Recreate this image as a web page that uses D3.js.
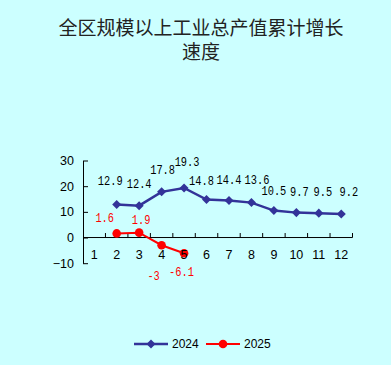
<!DOCTYPE html>
<html><head><meta charset="utf-8">
<script src="https://cdn.jsdelivr.net/npm/d3@7/dist/d3.min.js"></script>
<style>
html,body{margin:0;padding:0;background:#CCFFFF;}
svg{display:block;}
</style></head>
<body><svg id="c" width="391" height="365"></svg>
<script>
const months = [1,2,3,4,5,6,7,8,9,10,11,12];
const monthLabels = ["1","2","3","4","5","6","7","8","9","10","11","12"];
const months2024 = [2,3,4,5,6,7,8,9,10,11,12];
const values2024 = [12.9,12.4,17.8,19.3,14.8,14.4,13.6,10.5,9.7,9.5,9.2];
const months2025 = [2,3,4,5];
const values2025 = [1.6,1.9,-3,-6.1];
const yTicks = [-10,0,10,20,30];
const seriesNames = ["2024","2025"];
const titleLines = ["全区规模以上工业总产值累计增长","速度"];

// layout: data-label nudges (px) as placed in the reference
const nudge2024 = [[-6.5,-22.5],[0,-20.3],[1,-21],[3,-25],[-5,-17.6],[0,-20],[5.5,-22],[0,-19],[3,-20],[4,-20],[7.6,-21]];
const nudge2025 = [[-12,-14],[2,-12],[-8,32],[-2.6,20]];

const svg = d3.select("#c");
svg.append("rect").attr("width",391).attr("height",365).attr("fill","#CCFFFF");

const numFont = "'Liberation Mono', 'DejaVu Sans Mono', monospace";

// title
svg.append("g").selectAll("text").data(titleLines).join("text")
  .attr("x",201).attr("y",(d,i)=>26+i*24.5)
  .attr("text-anchor","middle").attr("dominant-baseline","central")
  .attr("font-family","'Noto Sans CJK SC'").attr("font-size",19)
  .attr("fill","#222").text(d=>d);

const x = d3.scaleBand().domain(months).range([83,352.5]).padding(0);
const y = d3.scaleLinear().domain([-10,30]).range([263.2,160.5]);
const cx = m => x(m)+x.bandwidth()/2;

// y axis
const yAxis = d3.axisLeft(y).tickValues(yTicks).tickSizeInner(-5).tickSizeOuter(0).tickPadding(9);
const gy = svg.append("g").attr("transform","translate(83,0)").call(yAxis);
gy.select(".domain").attr("stroke","#000");
gy.selectAll(".tick line").attr("stroke","#000");
gy.selectAll(".tick text").attr("font-family","'Liberation Sans', Arial").attr("font-size",12.5).attr("fill","#000");

// x axis line at 0
const y0 = y(0);
svg.append("line").attr("x1",83).attr("x2",352.5).attr("y1",y0).attr("y2",y0).attr("stroke","#000");
svg.append("g").selectAll("line").data(months.slice(1).concat(["end"])).join("line")
  .attr("x1",d=>d==="end"?352.5:x(d)).attr("x2",d=>d==="end"?352.5:x(d))
  .attr("y1",y0).attr("y2",y0-4.5).attr("stroke","#000");

// series
const line = d3.line().x(d=>cx(d[0])).y(d=>y(d[1]));
const d2024 = months2024.map((m,i)=>[m,values2024[i],nudge2024[i]]);
const d2025 = months2025.map((m,i)=>[m,values2025[i],nudge2025[i]]);

svg.append("path").datum(d2024).attr("d",line).attr("fill","none")
  .attr("stroke","#333399").attr("stroke-width",2.5);
svg.append("g").selectAll("path").data(d2024).join("path")
  .attr("d",d3.symbol(d3.symbolDiamond2,52)())
  .attr("transform",d=>`translate(${cx(d[0])},${y(d[1])})`)
  .attr("fill","#333399");

svg.append("path").datum(d2025).attr("d",line).attr("fill","none")
  .attr("stroke","#FF0000").attr("stroke-width",2);
svg.append("g").selectAll("circle").data(d2025).join("circle")
  .attr("cx",d=>cx(d[0])).attr("cy",d=>y(d[1])).attr("r",4.3).attr("fill","#FF0000");

// data labels
function labels(data,color){
  svg.append("g").selectAll("text").data(data).join("text")
    .attr("x",d=>cx(d[0])+d[2][0]).attr("y",d=>y(d[1])+d[2][1])
    .attr("text-anchor","middle").attr("dominant-baseline","central")
    .attr("font-family",numFont).attr("font-size",12).attr("fill",color)
    .attr("textLength",d=>String(d[1]).length*6.2).attr("lengthAdjust","spacingAndGlyphs")
    .text(d=>d[1]);
}
labels(d2024,"#000");
labels(d2025,"#FF0000");

// category labels
svg.append("g").selectAll("text").data(months).join("text")
  .attr("x",d=>cx(d)).attr("y",255.3)
  .attr("text-anchor","middle").attr("dominant-baseline","central")
  .attr("font-family","'Liberation Sans', Arial").attr("font-size",12.5).attr("fill","#000")
  .text((d,i)=>monthLabels[i]);

// legend
const leg = svg.append("g");
const legItems = [{name:seriesNames[0],color:"#333399",x0:134,type:"diamond"},{name:seriesNames[1],color:"#FF0000",x0:206,type:"circle"}];
legItems.forEach(it=>{
  leg.append("line").attr("x1",it.x0).attr("x2",it.x0+34).attr("y1",344).attr("y2",344)
    .attr("stroke",it.color).attr("stroke-width",it.type==="diamond"?2.5:2);
  if(it.type==="diamond"){
    leg.append("path").attr("d",d3.symbol(d3.symbolDiamond2,52)()).attr("transform",`translate(${it.x0+17},344)`).attr("fill",it.color);
  } else {
    leg.append("circle").attr("cx",it.x0+17).attr("cy",344).attr("r",4.3).attr("fill",it.color);
  }
  leg.append("text").attr("x",it.x0+38).attr("y",344).attr("dominant-baseline","central")
    .attr("font-family","'Liberation Sans', Arial").attr("font-size",12).attr("fill","#000").text(it.name);
});
</script></body></html>
